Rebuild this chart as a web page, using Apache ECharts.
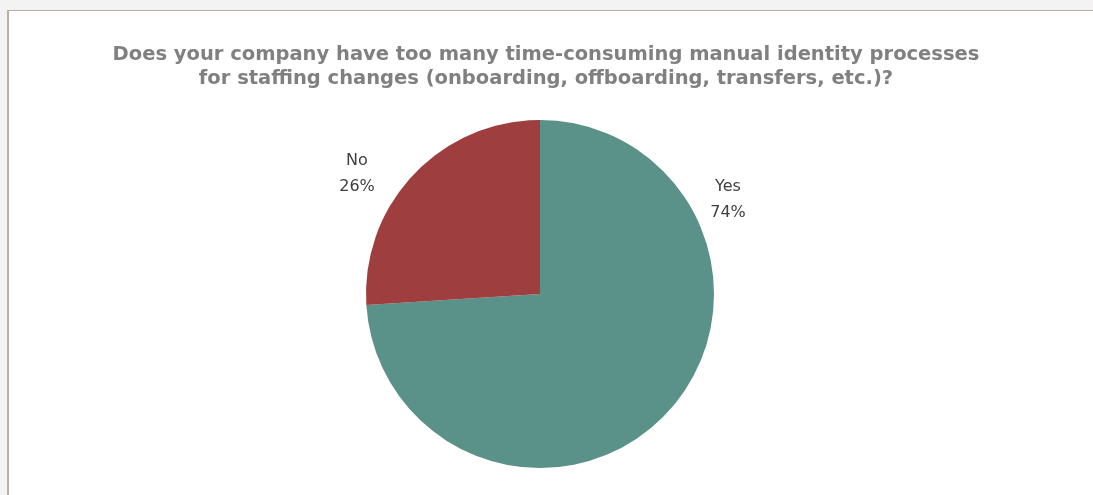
<!DOCTYPE html>
<html>
<head>
<meta charset="utf-8">
<script src="https://cdn.jsdelivr.net/npm/echarts@6/dist/echarts.min.js"></script>
<style>
  html, body { margin: 0; padding: 0; background: #f3f3f3; overflow: hidden; }
  #frame { position: absolute; left: 7px; top: 10px; width: 1200px; height: 600px;
           background: #fff; border-top: 1px solid #b9b1a0; border-left: 2px solid #b9b1a0; }
  #main { position: absolute; left: 0; top: 0; width: 1093px; height: 495px; }
</style>
</head>
<body>
<div id="frame"></div>
<div id="main"></div>
<script>
  var categories = ['Yes', 'No'];
  var values = [74, 26];
  var colors = ['#5a9189', '#9e3e3e'];

  // where Excel put the labels (best fit), relative to the pie centre
  var labelOffsets = [[188, -94], [-183, -120]];

  var center = [540, 294];

  var chart = echarts.init(document.getElementById('main'));
  chart.setOption({
    backgroundColor: 'transparent',
    title: {
      text: 'Does your company have too many time-consuming manual identity processes\nfor staffing changes (onboarding, offboarding, transfers, etc.)?',
      left: 541,
      textAlign: 'center',
      top: 38,
      textStyle: {
        fontFamily: 'DejaVu Sans',
        fontWeight: 'bold',
        fontSize: 19.5,
        lineHeight: 24,
        color: '#808080'
      }
    },
    series: [{
      type: 'pie',
      center: center,
      radius: 174,
      startAngle: 90,
      clockwise: true,
      silent: true,
      data: categories.map(function (c, i) {
        return { name: c, value: values[i], itemStyle: { color: colors[i] } };
      }),
      label: {
        show: true,
        position: 'outside',
        formatter: '{b}\n{d}%',
        fontFamily: 'DejaVu Sans',
        fontSize: 16,
        lineHeight: 26,
        color: '#404040',
        align: 'center'
      },
      labelLine: { show: false },
      labelLayout: function (p) {
        var o = labelOffsets[p.dataIndex];
        return {
          x: center[0] + o[0],
          y: center[1] + o[1],
          align: 'center',
          verticalAlign: 'middle'
        };
      }
    }]
  });
</script>
</body>
</html>
